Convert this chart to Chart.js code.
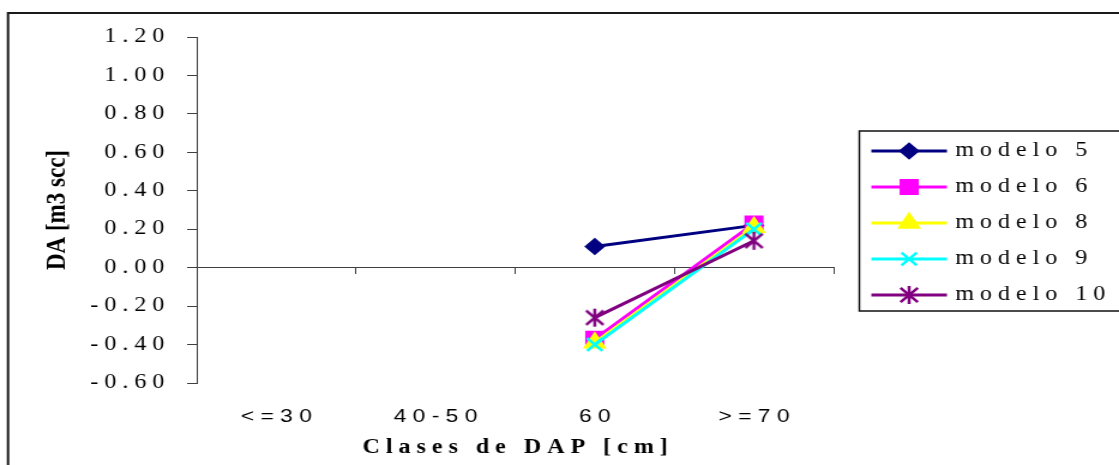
<!DOCTYPE html>
<html>
<head>
<meta charset="utf-8">
<title>DA por clase de DAP</title>
<script src="https://cdn.jsdelivr.net/npm/chart.js@4.4.0/dist/chart.umd.min.js"></script>
<style>
  html, body { margin: 0; padding: 0; background: #fff; overflow: hidden; }
  /* el grafico original viene estirado a lo ancho */
  #daChart { display: block; transform: scaleX(1.1994); transform-origin: 0 0; }
</style>
</head>
<body>
<canvas id="daChart" width="933" height="465"></canvas>
<script>
// categorias de DAP y diferencias por modelo
var clases = ["<=30", "40-50", "60", ">=70"];
var modelo5 = [null, null, 0.11, 0.22];
var modelo6 = [null, null, -0.37, 0.23];
var modelo8 = [null, null, -0.39, 0.21];
var modelo9 = [null, null, -0.40, 0.20];
var modelo10 = [null, null, -0.26, 0.14];
var yMin = -0.6, yMax = 1.2, yStep = 0.2;

var GAP = " ";          // espaciado entre letras

function spaced(s, gap) {
    return String(s).split("").join(gap || GAP);
}

// asterisco de 6 brazos (estilo Excel)
function asterisco(color, r) {
    var c = document.createElement("canvas");
    var s = Math.ceil(2 * r + 4);
    c.width = s; c.height = s;
    var g = c.getContext("2d");
    var m = s / 2, d = r * 0.8;
    g.strokeStyle = color;
    g.lineWidth = 2.5;
    g.beginPath();
    g.moveTo(m, m - r); g.lineTo(m, m + r);
    g.moveTo(m - d, m - d); g.lineTo(m + d, m + d);
    g.moveTo(m - d, m + d); g.lineTo(m + d, m - d);
    g.stroke();
    return c;
}

// marco de fondo
var framePlugin = {
    id: "frame",
    beforeDraw: function(chart) {
        var ctx = chart.ctx;
        ctx.save();
        ctx.fillStyle = "#fff";
        ctx.fillRect(0, 0, chart.width, chart.height);
        ctx.strokeStyle = "#1a1a1a";
        ctx.lineWidth = 2;
        ctx.beginPath();
        ctx.moveTo(chart.width, 13);
        ctx.lineTo(6.7, 13);
        ctx.lineTo(6.7, chart.height);
        ctx.stroke();
        ctx.restore();
    }
};

// leyenda con linea + marcador
var legendPlugin = {
    id: "boxLegend",
    afterDraw: function(chart) {
        var ctx = chart.ctx;
        var area = chart.chartArea;
        var left = area.right + 21.5, top = 131, bottom = 311;
        ctx.save();
        ctx.strokeStyle = "#111";
        ctx.lineWidth = 1.5;
        ctx.strokeRect(left, top, chart.width - left + 5, bottom - top);
        chart.data.datasets.forEach(function(ds, i) {
            var y = top + 20 + i * 36;
            ctx.strokeStyle = ds.borderColor;
            ctx.lineWidth = ds.borderWidth;
            ctx.beginPath();
            ctx.moveTo(left + 10, y);
            ctx.lineTo(left + 73, y);
            ctx.stroke();
            ctx.fillStyle = ds.backgroundColor;
            ctx.strokeStyle = ds.borderColor;
            ctx.lineWidth = ds.pointBorderWidth;
            Chart.helpers.drawPoint(ctx, {
                pointStyle: ds.pointStyle,
                radius: ds.pointRadius,
                borderWidth: ds.pointBorderWidth,
                rotation: 0
            }, left + 41.5, y);
            ctx.fillStyle = "#000";
            ctx.font = '20px "Liberation Serif"';
            ctx.textBaseline = "middle";
            ctx.textAlign = "left";
            ctx.fillText(spaced(ds.label), left + 80, y);
        });
        ctx.restore();
    }
};

function serie(label, data, color, style, radius, order) {
    return {
        label: label,
        data: data,
        order: order,
        borderColor: color,
        backgroundColor: color,
        borderWidth: 3,
        pointStyle: style,
        pointRadius: radius,
        pointHoverRadius: radius,
        pointBorderWidth: 2.5,
        tension: 0,
        spanGaps: false
    };
}

var axisColor = "#404040";

var config = {
    type: "line",
    data: {
        labels: clases,
        datasets: [
            serie("modelo 5", modelo5, "#000080", "rectRot", 7, 5),
            serie("modelo 6", modelo6, "#FF00FF", "rect", 9.5, 4),
            serie("modelo 8", modelo8, "#FFFF00", "triangle", 9, 3),
            serie("modelo 9", modelo9, "#00FFFF", "crossRot", 9, 2),
            serie("modelo 10", modelo10, "#800080", asterisco("#800080", 9), 9, 1)
        ]
    },
    options: {
        responsive: false,
        animation: false,
        devicePixelRatio: 1,
        layout: { padding: { left: 0, right: 238, top: 37, bottom: 0 } },
        plugins: {
            legend: { display: false },
            tooltip: { enabled: false }
        },
        scales: {
            x: {
                type: "category",
                position: "bottom",
                offset: true,
                grid: { display: false, drawTicks: false },
                border: { display: false },
                ticks: {
                    color: "#000",
                    padding: 22,
                    maxRotation: 0,
                    autoSkip: false,
                    font: { family: '"Liberation Sans"', size: 19 },
                    callback: function(value) {
                        return spaced(this.getLabelForValue(value));
                    }
                },
                title: {
                    display: true,
                    text: spaced("Clases de DAP [cm]"),
                    color: "#000",
                    padding: { top: 0, bottom: 5 },
                    font: { family: '"Liberation Serif"', size: 20, weight: "bold" }
                },
                afterFit: function(scale) { scale.height = 82; }
            },
            // eje horizontal que cruza en y = 0
            x2: {
                type: "category",
                position: { y: 0 },
                offset: true,
                grid: {
                    offset: true,
                    drawOnChartArea: false,
                    drawTicks: true,
                    tickLength: 6,
                    color: axisColor
                },
                border: { display: true, color: axisColor, width: 1 },
                ticks: { display: false }
            },
            y: {
                min: yMin,
                max: yMax,
                position: "left",
                grid: {
                    drawOnChartArea: false,
                    drawTicks: true,
                    tickLength: 8,
                    color: axisColor
                },
                border: { display: true, color: axisColor, width: 1 },
                ticks: {
                    stepSize: yStep,
                    color: "#000",
                    padding: 19,
                    font: { family: '"Liberation Serif"', size: 20 },
                    callback: function(value) {
                        return spaced(Number(value).toFixed(2));
                    }
                },
                title: {
                    display: true,
                    text: "DA [m3 scc]",
                    color: "#000",
                    padding: { top: 34, bottom: 0 },
                    font: { family: '"Liberation Serif"', size: 23, weight: "bold" }
                },
                afterFit: function(scale) { scale.width = 164; }
            }
        }
    },
    plugins: [framePlugin, legendPlugin]
};

var barChart = new Chart(document.getElementById("daChart"), config);
</script>
</body>
</html>
